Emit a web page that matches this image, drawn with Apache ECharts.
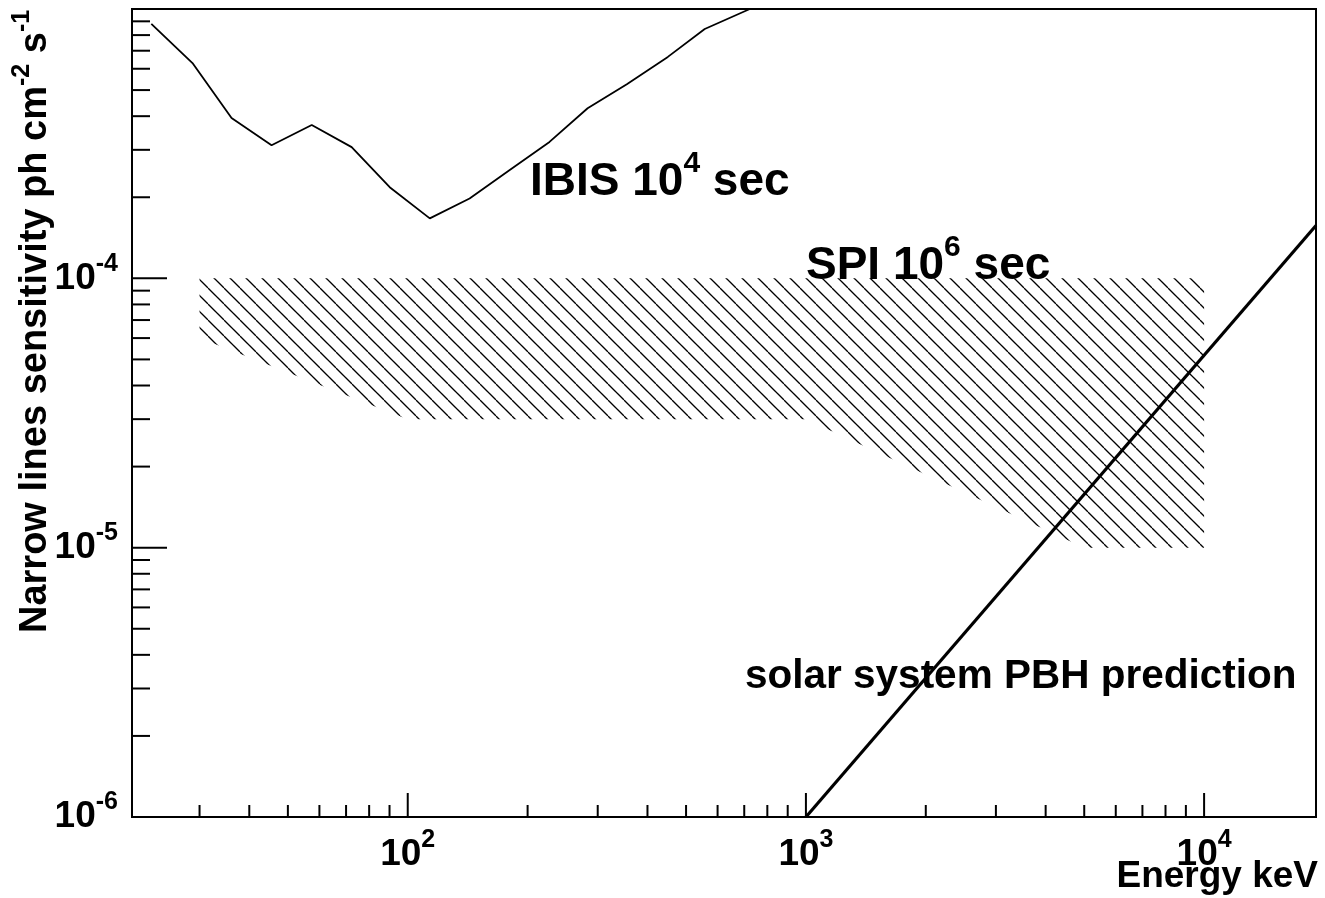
<!DOCTYPE html>
<html>
<head>
<meta charset="utf-8">
<script src="https://cdn.jsdelivr.net/npm/echarts@6/dist/echarts.min.js"></script>
<style>
html,body{margin:0;padding:0;background:#fff;}
#chart{width:1325px;height:898px;}
</style>
</head>
<body>
<div id="chart"></div>
<script>
// ---------------- data ----------------
const X_MIN = 20.3, X_MAX = 19100;
const Y_MIN = 1e-6, Y_MAX = 1e-3;

const ibisEnergy = [22.7, 28.8, 36.1, 45.5, 57.4, 72.3, 90.1, 113.6, 143, 180, 227, 283, 355, 450, 557, 723];
const ibisSens   = [8.8e-4, 6.3e-4, 3.94e-4, 3.12e-4, 3.71e-4, 3.07e-4, 2.18e-4, 1.67e-4, 1.98e-4, 2.52e-4, 3.21e-4, 4.28e-4, 5.26e-4, 6.64e-4, 8.43e-4, 1.0e-3];

const spiUpperEnergy = [30, 10000];
const spiUpperSens   = [1e-4, 1e-4];
const spiLowerEnergy = [30, 100, 1000, 5000, 10000];
const spiLowerSens   = [6e-5, 3e-5, 3e-5, 1e-5, 1e-5];

const pbhEnergy = [1000, 19100];
const pbhSens   = [1.0e-6, 1.57e-4];

const xMajorTicks = [100, 1000, 10000];
const xMinorTicks = [30, 40, 50, 60, 70, 80, 90, 200, 300, 400, 500, 600, 700, 800, 900,
                     2000, 3000, 4000, 5000, 6000, 7000, 8000, 9000];
const yMajorTicks = [1e-6, 1e-5, 1e-4];
const yMinorTicks = [2e-6, 3e-6, 4e-6, 5e-6, 6e-6, 7e-6, 8e-6, 9e-6,
                     2e-5, 3e-5, 4e-5, 5e-5, 6e-5, 7e-5, 8e-5, 9e-5,
                     2e-4, 3e-4, 4e-4, 5e-4, 6e-4, 7e-4, 8e-4, 9e-4];
const xLabelExponents = [2, 3, 4];
const yLabelExponents = [-6, -5, -4];

// ---------------- helpers ----------------
const FONT = '"Liberation Sans", Arial, Helvetica, sans-serif';

function zip(a, b) { return a.map((v, i) => [v, b[i]]); }

function hatchTile() {
  const c = document.createElement('canvas');
  c.width = 16; c.height = 16;
  const ctx = c.getContext('2d');
  ctx.strokeStyle = '#000';
  ctx.lineWidth = 1.3;
  [-16, 0, 16].forEach(k => {
    ctx.beginPath();
    ctx.moveTo(k, 0);
    ctx.lineTo(k + 16, 16);
    ctx.stroke();
  });
  return c;
}
const HATCH = hatchTile();

function tickSeries(values, axis, len) {
  return {
    type: 'custom',
    coordinateSystem: 'cartesian2d',
    silent: true,
    clip: false,
    z: 5,
    data: values.map(v => axis === 'x' ? [v, Y_MIN] : [X_MIN, v]),
    renderItem: function (params, api) {
      const p = api.coord([api.value(0), api.value(1)]);
      const shape = axis === 'x'
        ? { x1: p[0], y1: p[1], x2: p[0], y2: p[1] - len }
        : { x1: p[0], y1: p[1], x2: p[0] + len, y2: p[1] };
      return { type: 'line', shape: shape, style: { stroke: '#000', lineWidth: 2 } };
    }
  };
}

function isPow(v, list) {
  const l = Math.log10(v);
  const e = Math.round(l);
  return Math.abs(l - e) < 1e-6 && list.indexOf(e) >= 0 ? e : null;
}

function richFor(main, sup, colorKey, lhMul) {
  const m = { fontSize: main, fontWeight: 'bold', fontFamily: FONT, lineHeight: Math.round(main * (lhMul || 1.45)) };
  const s = { fontSize: sup, fontWeight: 'bold', fontFamily: FONT, verticalAlign: 'top', lineHeight: Math.round(sup * 1.0) };
  m[colorKey] = '#000'; s[colorKey] = '#000';
  return { m: m, s: s };
}

const spiPolygon = zip(spiUpperEnergy, spiUpperSens)
  .concat(zip(spiLowerEnergy, spiLowerSens).reverse());

// ---------------- chart ----------------
const chart = echarts.init(document.getElementById('chart'), null, { renderer: 'canvas' });

const option = {
  animation: false,
  backgroundColor: '#fff',
  grid: {
    left: 132, right: 9, top: 9, bottom: 81,
    show: true, borderColor: '#000', borderWidth: 2, backgroundColor: 'transparent'
  },
  xAxis: {
    type: 'log', logBase: 10, min: X_MIN, max: X_MAX,
    axisLine: { show: false }, axisTick: { show: false }, splitLine: { show: false },
    minorTick: { show: false },
    axisLabel: {
      margin: 11,
      formatter: function (v) {
        const e = isPow(v, xLabelExponents);
        return e === null ? '' : '{m|10}{s|' + e + '}';
      },
      rich: richFor(37, 25, 'color')
    }
  },
  yAxis: {
    type: 'log', logBase: 10, min: Y_MIN, max: Y_MAX,
    axisLine: { show: false }, axisTick: { show: false }, splitLine: { show: false },
    minorTick: { show: false },
    axisLabel: {
      margin: 14,
      formatter: function (v) {
        const e = isPow(v, yLabelExponents);
        return e === null ? '' : '{m|10}{s|' + e + '}';
      },
      rich: richFor(37, 25, 'color')
    }
  },
  series: [
    {
      type: 'custom',
      coordinateSystem: 'cartesian2d',
      silent: true,
      z: 1,
      data: [spiPolygon[0]],
      renderItem: function (params, api) {
        const pts = spiPolygon.map(p => api.coord(p));
        return {
          type: 'polygon',
          shape: { points: pts },
          style: { fill: { image: HATCH, repeat: 'repeat' }, stroke: null, lineWidth: 0 }
        };
      }
    },
    {
      type: 'line', name: 'IBIS', z: 3,
      data: zip(ibisEnergy, ibisSens),
      showSymbol: false, symbol: 'none', clip: true,
      lineStyle: { color: '#000', width: 1.8 }
    },
    {
      type: 'line', name: 'PBH', z: 3,
      data: zip(pbhEnergy, pbhSens),
      showSymbol: false, symbol: 'none', clip: true,
      lineStyle: { color: '#000', width: 3.2 }
    },
    tickSeries(xMajorTicks, 'x', 24),
    tickSeries(xMinorTicks, 'x', 12),
    tickSeries(yMajorTicks, 'y', 35),
    tickSeries(yMinorTicks, 'y', 18)
  ],
  graphic: [
    {
      type: 'text', x: 36, y: 633, rotation: Math.PI / 2, z: 10,
      style: {
        text: '{m|Narrow lines sensitivity ph cm}{s|-2}{m| s}{s|-1}',
        align: 'left', verticalAlign: 'middle',
        rich: richFor(38, 25, 'fill', 1.4)
      }
    },
    {
      type: 'text', x: 1318, y: 877, z: 10,
      style: {
        text: 'Energy keV', align: 'right', verticalAlign: 'middle',
        fontSize: 37, fontWeight: 'bold', fontFamily: FONT, fill: '#000'
      }
    },
    {
      type: 'text', x: 530, y: 182, z: 10,
      style: {
        text: '{m|IBIS 10}{s|4}{m| sec}', align: 'left', verticalAlign: 'middle',
        rich: richFor(46, 30, 'fill', 1.45)
      }
    },
    {
      type: 'text', x: 806, y: 266, z: 10,
      style: {
        text: '{m|SPI 10}{s|6}{m| sec}', align: 'left', verticalAlign: 'middle',
        rich: richFor(46, 30, 'fill', 1.45)
      }
    },
    {
      type: 'text', x: 745, y: 677, z: 10,
      style: {
        text: 'solar system PBH prediction', align: 'left', verticalAlign: 'middle',
        fontSize: 40.5, fontWeight: 'bold', fontFamily: FONT, fill: '#000'
      }
    }
  ]
};

chart.setOption(option);
</script>
</body>
</html>
